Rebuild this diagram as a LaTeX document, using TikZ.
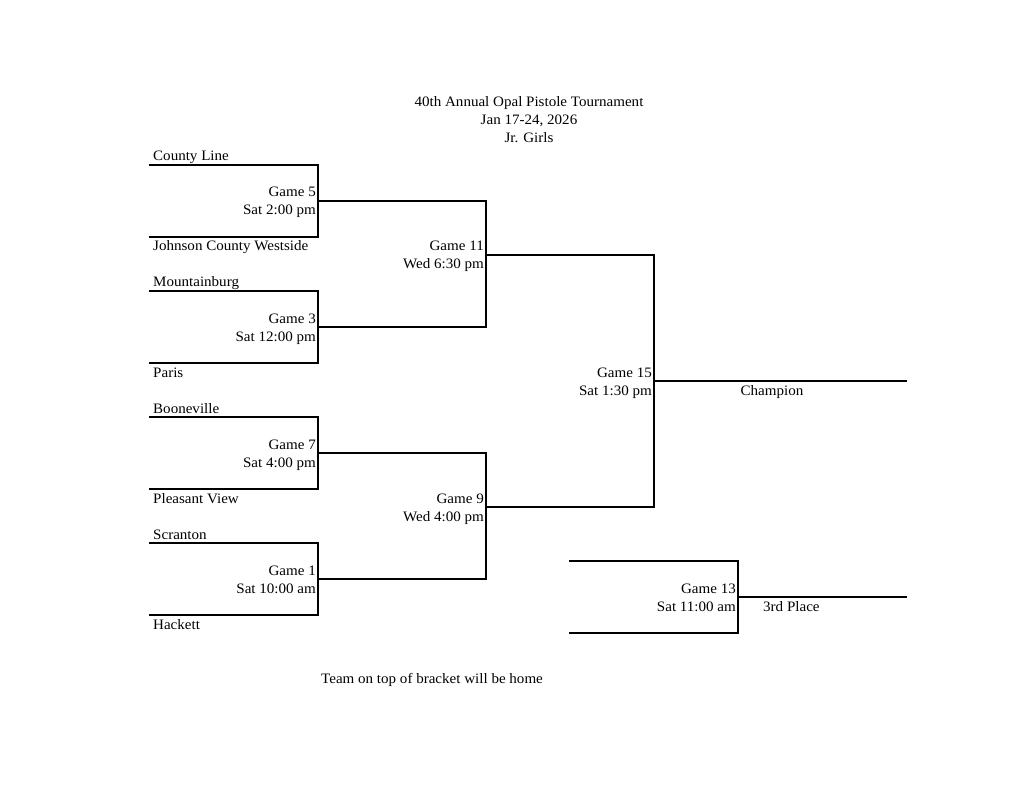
\documentclass[tikz,border=0pt]{standalone}
\usepackage{fontspec}
\setmainfont[FakeStretch=1.045]{Liberation Serif}
\begin{document}
\begin{tikzpicture}[x=1pt,y=-1pt,
  br/.style={line width=1.2pt,line cap=rect},
  lbl/.style={inner sep=0pt,font=\fontsize{14.4}{18}\selectfont},
  lw/.style={lbl,anchor=base west},
  le/.style={lbl,anchor=base east},
  lc/.style={lbl,anchor=base}]
\useasboundingbox[fill=white] (0,0) rectangle (1024,791);
% title
\node[lc] (t1) at (529,107) {40th Annual Opal Pistole Tournament};
\node[lc] (t2) at (529,125) {Jan 17-24, 2026};
\node[lc] (t3) at (529,143) {Jr. Girls};
% coordinates
\foreach \n/\ya/\yb in {g5/165/237, g3/291/363, g7/417/489, g1/543/615}{
  \coordinate (\n a) at (150,\ya);
  \coordinate (\n b) at (150,\yb);
  \coordinate (\n ta) at (318,\ya);
  \coordinate (\n tb) at (318,\yb);
}
\coordinate (g5o) at (318,201);
\coordinate (g3o) at (318,327);
\coordinate (g7o) at (318,453);
\coordinate (g1o) at (318,579);
\coordinate (g11a) at (486,201);
\coordinate (g11b) at (486,327);
\coordinate (g11o) at (486,255);
\coordinate (g9a) at (486,453);
\coordinate (g9b) at (486,579);
\coordinate (g9o) at (486,507);
\coordinate (g15a) at (654,255);
\coordinate (g15b) at (654,507);
\coordinate (g15o) at (654,381);
\coordinate (champ) at (906,381);
\coordinate (g13a) at (570,561);
\coordinate (g13b) at (570,633);
\coordinate (g13ta) at (738,561);
\coordinate (g13tb) at (738,633);
\coordinate (g13o) at (738,597);
\coordinate (third) at (906,597);
% first round brackets
\foreach \n in {g5,g3,g7,g1}{
  \draw[br] (\n a) -- (\n ta) -- (\n tb) -- (\n b);
}
\draw[br] (g5o) -- (g11a) -- (g11b) -- (g3o);
\draw[br] (g7o) -- (g9a) -- (g9b) -- (g1o);
\draw[br] (g11o) -- (g15a) -- (g15b) -- (g9o);
\draw[br] (g15o) -- (champ);
\draw[br] (g13a) -- (g13ta) -- (g13tb) -- (g13b);
\draw[br] (g13o) -- (third);
% team names
\node[lw] (n1) at (153,161) {County Line};
\node[lw] (n2) at (153,251) {Johnson County Westside};
\node[lw] (n3) at (153,287) {Mountainburg};
\node[lw] (n4) at (153,377) {Paris};
\node[lw] (n5) at (153,413) {Booneville};
\node[lw] (n6) at (153,503) {Pleasant View};
\node[lw] (n7) at (153,539) {Scranton};
\node[lw] (n8) at (153,629) {Hackett};
% game labels
\node[le] (l5a) at (316,197) {Game 5};
\node[le] (l5b) at (316,215) {Sat 2:00 pm};
\node[le] (l3a) at (316,323) {Game 3};
\node[le] (l3b) at (316,341) {Sat 12:00 pm};
\node[le] (l7a) at (316,449) {Game 7};
\node[le] (l7b) at (316,467) {Sat 4:00 pm};
\node[le] (l1a) at (316,575) {Game 1};
\node[le] (l1b) at (316,593) {Sat 10:00 am};
\node[le] (l11a) at (484,251) {Game 11};
\node[le] (l11b) at (484,269) {Wed 6:30 pm};
\node[le] (l9a) at (484,503) {Game 9};
\node[le] (l9b) at (484,521) {Wed 4:00 pm};
\node[le] (l15a) at (652,377) {Game 15};
\node[le] (l15b) at (652,395) {Sat 1:30 pm};
\node[le] (l13a) at (736,593) {Game 13};
\node[le] (l13b) at (736,611) {Sat 11:00 am};
\node[lc] (ch) at (772,395) {Champion};
\node[lw] (tp) at (763,611) {3rd Place};
\node[lw] (ft) at (321,683) {Team on top of bracket will be home};
\end{tikzpicture}
\end{document}
